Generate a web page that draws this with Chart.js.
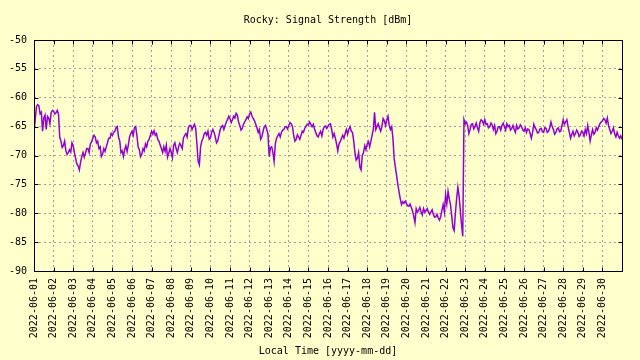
<!DOCTYPE html>
<html>
<head>
<meta charset="utf-8">
<script src="https://cdn.jsdelivr.net/npm/chart.js@4.4.0/dist/chart.umd.min.js"></script>
<style>
	html, body { margin: 0; padding: 0; background: #ffffcc; }
	#wrap { width: 640px; height: 360px; }
</style>
</head>
<body>
<div id="wrap"><canvas id="signalChart" width="640" height="360"></canvas></div>
<script>
const chartTitle = 'Rocky: Signal Strength [dBm]'
const xTitle = 'Local Time [yyyy-mm-dd]'
const dayLabels = [
	'2022-06-01', '2022-06-02', '2022-06-03', '2022-06-04', '2022-06-05',
	'2022-06-06', '2022-06-07', '2022-06-08', '2022-06-09', '2022-06-10',
	'2022-06-11', '2022-06-12', '2022-06-13', '2022-06-14', '2022-06-15',
	'2022-06-16', '2022-06-17', '2022-06-18', '2022-06-19', '2022-06-20',
	'2022-06-21', '2022-06-22', '2022-06-23', '2022-06-24', '2022-06-25',
	'2022-06-26', '2022-06-27', '2022-06-28', '2022-06-29', '2022-06-30',
]
const yTicks = [-90, -85, -80, -75, -70, -65, -60, -55, -50]
// one reading every 1.5 hours, starting 2022-06-01 00:00
const stepHours = 1.5
const signal = [
	-62, -63.8, -61.5, -61.2, -61.4, -62.8, -62.5, -65.8, -63.5, -63, -65.5, -63.2, -63.5, -64.5, -62.6, -62.2, // 06-01
	-62.3, -62.8, -62.6, -62.2, -62.8, -66.8, -67.5, -68.6, -68.3, -67.5, -69.2, -69.8, -69.5, -69, -69.4, -67.8, // 06-02
	-68.3, -69.5, -70.5, -71.5, -71.8, -72.5, -71.2, -70.2, -69.5, -70.3, -69.6, -68.8, -68.8, -69.5, -68, -67.6, // 06-03
	-67, -66.5, -66.8, -67.8, -67.5, -68.8, -68.5, -70.2, -69.8, -68.8, -69.3, -68.5, -67.8, -67, -67, -66.2, // 06-04
	-66.5, -66, -65.8, -65.2, -65, -66.8, -67.5, -69.5, -69.2, -70.2, -69, -68.3, -69.3, -68.2, -66.8, -66.2, // 06-05
	-65.8, -66.5, -65.2, -65, -66.5, -68.5, -69, -70.2, -69.8, -68.8, -69.2, -68, -68.5, -67.5, -67.2, -66.5, // 06-06
	-65.8, -66.3, -65.7, -66.5, -66.2, -67.2, -67.5, -68.2, -68.8, -69.5, -68.5, -69.3, -68.2, -70.3, -69.6, -68.8, // 06-07
	-69.5, -70.4, -68.2, -67.8, -68.8, -69.5, -68.5, -67.9, -68.3, -68.8, -67, -66.5, -66.2, -66.8, -65.2, -64.8, // 06-08
	-64.8, -65.5, -65, -64.6, -65.3, -68, -71, -71.6, -68.5, -67.5, -67, -66.2, -66, -66.5, -65.8, -67.2, // 06-09
	-67, -66, -65.5, -66, -66.8, -67.8, -67.5, -66.5, -65.5, -65, -64.8, -65.5, -64.8, -64.2, -63.8, -63.2, // 06-10
	-63.6, -64.3, -63.8, -63.2, -63.5, -62.7, -63, -64.2, -64.8, -65.6, -65.3, -64.6, -64.2, -63.8, -63.3, -63.6, // 06-11
	-62.8, -62.5, -63.2, -63.6, -64, -64.6, -65.2, -66, -65.5, -67.2, -66.8, -65.8, -65, -64.8, -65.5, -66.3, // 06-12
	-70.2, -68.6, -68.5, -69.4, -71, -68, -67, -66.6, -66.2, -66.8, -66, -65.6, -65.5, -65, -65, -65.4, // 06-13
	-64.8, -64.3, -64.5, -65, -66.5, -67.5, -67.2, -66.4, -66.8, -67.2, -66.5, -65.8, -66, -65.3, -65, -64.6, // 06-14
	-64.7, -64.2, -64.6, -65, -64.6, -65.4, -66, -66.6, -66.8, -66.2, -65.8, -66.6, -65.5, -65, -64.9, -65.3, // 06-15
	-64.9, -64.6, -64.5, -65.5, -66.8, -66.2, -67, -68, -69.2, -68, -67.6, -67, -66.5, -67, -66.2, -65.5, // 06-16
	-66.3, -65.5, -65, -65.8, -66, -67.5, -69.5, -70.8, -70.5, -69.5, -72, -72.5, -70, -69.5, -68.3, -69, // 06-17
	-68, -67.6, -68.5, -67.5, -66.5, -65.5, -62.5, -65.5, -65, -64.5, -65.2, -65.8, -65, -63.6, -64, -64.8, // 06-18
	-63.8, -63.2, -64.8, -65.5, -65, -67, -70.5, -72, -73.5, -75, -76.3, -77.5, -78.5, -78, -78.3, -77.9, // 06-19
	-78.3, -78.7, -78.8, -78.4, -79, -79.6, -80.5, -81.6, -79.2, -79.8, -79.5, -79, -79.8, -80.3, -79.2, -79.8, // 06-20
	-79.5, -79.2, -79.8, -80.2, -79.8, -79.4, -80.2, -80.7, -80.6, -80.2, -80.8, -81.2, -80.6, -79.5, -78.5, -79.8, // 06-21
	-76.8, -78.4, -76.2, -77.5, -78.5, -80.5, -82.5, -83, -80, -77.5, -75.5, -77, -79.5, -82, -84, -63.8, // 06-22
	-64.5, -64.2, -64.8, -66.2, -65.5, -64.6, -64.5, -65.4, -65, -64.4, -65.2, -65.8, -64.3, -63.8, -64, -64.6, // 06-23
	-63.8, -64.6, -64.5, -65.2, -65, -64.4, -64.7, -65.5, -64.8, -66.2, -65.8, -65, -65, -65.6, -64.8, -64.4, // 06-24
	-65, -65.6, -64.5, -65, -64.8, -65.6, -65.3, -64.8, -65.5, -66, -64.8, -65.4, -65.2, -64.7, -65, -65.6, // 06-25
	-65.8, -65.2, -66, -65.4, -65.5, -66.2, -67, -66, -64.6, -65.2, -65.5, -66.1, -66, -65.4, -65.3, -65.9, // 06-26
	-66, -65.2, -65.3, -66, -65.8, -65.2, -64.2, -65, -65.5, -66.3, -66, -65.4, -65.2, -65.9, -65.8, -64.8, // 06-27
	-63.8, -64.6, -64.2, -63.8, -65, -66, -67, -66.3, -65.8, -66.6, -66.2, -65.6, -66, -66.7, -66.4, -65.8, // 06-28
	-66, -66.6, -65.5, -66.2, -64.8, -66, -67.5, -66.4, -65.5, -66.3, -66, -65.2, -65.6, -65, -64.5, -64.2, // 06-29
	-64, -63.6, -63.8, -64.4, -63.5, -64.8, -65.5, -66.2, -65.8, -65.2, -66.3, -66.8, -66, -66.6, -67, -66.6, // 06-30
	-67.2,
]

const bgColor = '#ffffcc'
const lineColor = '#9400d3'
const gridColor = '#a0a0a0'

Chart.defaults.font.family = '"DejaVu Sans Mono", monospace'
Chart.defaults.font.size = 10
Chart.defaults.color = '#000'

// background, frame with inward tics, and the title (centred on the plot)
const gnuplotFrame = {
	id: 'gnuplotFrame',
	beforeDraw(chart) {
		const ctx = chart.ctx
		ctx.save()
		ctx.fillStyle = bgColor
		ctx.fillRect(0, 0, chart.width, chart.height)
		ctx.restore()
	},
	afterDraw(chart) {
		const { ctx, chartArea: a, scales } = chart
		const left = Math.round(a.left) + 0.5
		const right = Math.round(a.right) + 0.5
		const top = Math.round(a.top) + 0.5
		const bottom = Math.round(a.bottom) + 0.5
		ctx.save()
		ctx.strokeStyle = '#000'
		ctx.lineWidth = 1
		ctx.strokeRect(left, top, right - left, bottom - top)
		ctx.beginPath()
		scales.x.ticks.forEach(t => {
			const px = Math.round(scales.x.getPixelForValue(t.value)) + 0.5
			ctx.moveTo(px, bottom)
			ctx.lineTo(px, bottom - 4)
			ctx.moveTo(px, top)
			ctx.lineTo(px, top + 4)
		})
		scales.y.ticks.forEach(t => {
			const py = Math.round(scales.y.getPixelForValue(t.value)) + 0.5
			ctx.moveTo(left, py)
			ctx.lineTo(left + 4, py)
			ctx.moveTo(right, py)
			ctx.lineTo(right - 4, py)
		})
		ctx.stroke()
		ctx.fillStyle = '#000'
		ctx.font = '10px "DejaVu Sans Mono", monospace'
		ctx.textAlign = 'center'
		ctx.textBaseline = 'middle'
		ctx.fillText(chartTitle, (a.left + a.right) / 2, 20)
		ctx.restore()
	},
}

const ctx = document.getElementById('signalChart').getContext('2d')
new Chart(ctx, {
	type: 'line',
	data: {
		datasets: [
			{
				label: 'Signal',
				data: signal.map((v, i) => ({ x: (i * stepHours) / 24, y: v })),
				borderColor: lineColor,
				borderWidth: 1.5,
				pointRadius: 0,
				tension: 0,
				fill: false,
			},
		],
	},
	options: {
		responsive: false,
		animation: false,
		layout: { padding: { top: 40, right: 18, left: 0, bottom: 0 } },
		plugins: {
			legend: { display: false },
			tooltip: { enabled: false },
		},
		scales: {
			x: {
				type: 'linear',
				min: 0,
				max: dayLabels.length,
				afterBuildTicks: s => {
					s.ticks = dayLabels.map((_, i) => ({ value: i }))
				},
				afterFit: s => {
					s.height = 89
				},
				ticks: {
					autoSkip: false,
					minRotation: 90,
					maxRotation: 90,
					padding: 7,
					callback: value => dayLabels[value],
				},
				grid: {
					color: gridColor,
					drawTicks: false,
				},
				border: { display: false, dash: [2, 3] },
				title: {
					display: true,
					text: xTitle,
					padding: { top: 0, bottom: 3 },
				},
			},
			y: {
				min: -90,
				max: -50,
				afterBuildTicks: s => {
					s.ticks = yTicks.map(v => ({ value: v }))
				},
				afterFit: s => {
					s.width = 34
				},
				ticks: { padding: 7 },
				grid: {
					color: gridColor,
					drawTicks: false,
				},
				border: { display: false, dash: [2, 3] },
			},
		},
	},
	plugins: [gnuplotFrame],
})
</script>
</body>
</html>
